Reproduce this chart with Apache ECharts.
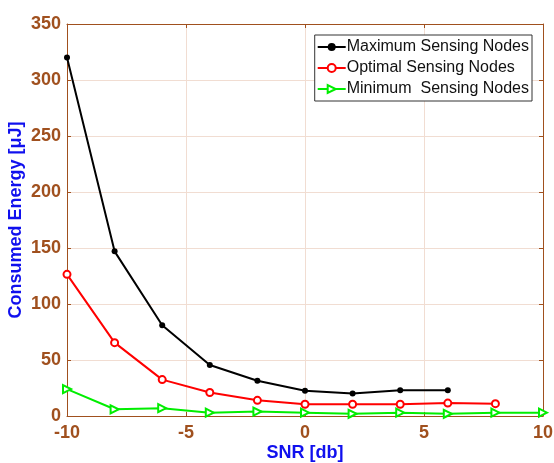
<!DOCTYPE html>
<html><head><meta charset="utf-8">
<script src="https://cdn.jsdelivr.net/npm/echarts@6/dist/echarts.min.js"></script>
<style>html,body{margin:0;padding:0;background:#fff}#c{width:554px;height:463px}</style>
</head><body><div id="c"></div>
<script>
const snrMax = [-10, -8, -6, -4, -2, 0, 2, 4, 6];
const maxNodes = [320, 147, 81, 45.5, 31.5, 22.5, 20, 23, 23];
const snrOpt = [-10, -8, -6, -4, -2, 0, 2, 4, 6, 8];
const optNodes = [126.5, 65.5, 32.5, 21, 14, 10.5, 10.5, 10.5, 11.5, 11];
const snrMin = [-10, -8, -6, -4, -2, 0, 2, 4, 6, 8, 10];
const minNodes = [24, 6, 7, 3, 4, 3, 2, 3, 2, 3, 3];
const seriesNames = ['Maximum Sensing Nodes', 'Optimal Sensing Nodes', 'Minimum  Sensing Nodes'];

const brown = '#a0501e';
const gridCol = '#f1ddd2';
const font = 'Liberation Sans, Arial, sans-serif';
const pair = (xs, ys) => xs.map((x, i) => [x, ys[i]]);

const chart = echarts.init(document.getElementById('c'));
chart.setOption({
  animation: false,
  backgroundColor: '#fff',
  grid: { left: 67, right: 11, top: 24, bottom: 47, containLabel: false, outerBoundsMode: 'none' },
  legend: {
    orient: 'vertical', right: 22, top: 35,
    backgroundColor: '#fff', borderColor: '#333', borderWidth: 1,
    padding: [4, 3, 4, 2], itemGap: 5, itemWidth: 28, itemHeight: 10,
    textStyle: { fontFamily: font, fontSize: 16, color: '#111', padding: [0, 0, 0, -4] },
    data: seriesNames
  },
  xAxis: [{
    type: 'value', min: -10, max: 10, interval: 5,
    name: 'SNR [db]', nameLocation: 'middle', nameGap: 28, nameMoveOverlap: false,
    nameTextStyle: { color: '#1010ee', fontWeight: 'bold', fontSize: 18, fontFamily: font },
    axisLine: { onZero: false, lineStyle: { color: brown, width: 1 } },
    axisTick: { inside: true, length: 4, lineStyle: { color: brown } },
    axisLabel: { color: brown, fontWeight: 'bold', fontSize: 18, fontFamily: font, margin: 8 },
    splitLine: { show: true, lineStyle: { color: gridCol, width: 1 } }
  }, {
    type: 'value', min: -10, max: 10, interval: 5, position: 'top',
    axisLine: { show: true, onZero: false, lineStyle: { color: brown, width: 1 } },
    axisTick: { inside: true, length: 4, lineStyle: { color: brown } },
    axisLabel: { show: false }, splitLine: { show: false }
  }],
  yAxis: [{
    type: 'value', min: 0, max: 350, interval: 50,
    name: 'Consumed Energy [μJ]', nameLocation: 'middle', nameGap: 42, nameMoveOverlap: false,
    nameTextStyle: { color: '#1010ee', fontWeight: 'bold', fontSize: 18, fontFamily: font },
    axisLine: { show: true, onZero: false, lineStyle: { color: brown, width: 1 } },
    axisTick: { show: true, inside: true, length: 4, lineStyle: { color: brown } },
    axisLabel: { color: brown, fontWeight: 'bold', fontSize: 18, fontFamily: font, margin: 6 },
    splitLine: { show: true, lineStyle: { color: gridCol, width: 1 } }
  }, {
    type: 'value', min: 0, max: 350, interval: 50, position: 'right',
    axisLine: { show: true, onZero: false, lineStyle: { color: brown, width: 1 } },
    axisTick: { show: true, inside: true, length: 4, lineStyle: { color: brown } },
    axisLabel: { show: false }, splitLine: { show: false }
  }],
  series: [{
    name: seriesNames[0], type: 'line', data: pair(snrMax, maxNodes),
    symbol: 'circle', symbolSize: 6, color: '#000',
    lineStyle: { color: '#000', width: 2 }, itemStyle: { color: '#000' }
  }, {
    name: seriesNames[1], type: 'line', data: pair(snrOpt, optNodes),
    symbol: 'emptyCircle', symbolSize: 7, color: '#ff0000',
    lineStyle: { color: '#ff0000', width: 2 }, itemStyle: { color: '#ff0000', borderWidth: 1.5 }
  }, {
    name: seriesNames[2], type: 'line', data: pair(snrMin, minNodes),
    symbol: 'emptyTriangle', symbolRotate: -90, symbolSize: 8, color: '#00ee00',
    lineStyle: { color: '#00ee00', width: 2 }, itemStyle: { color: '#00ee00', borderWidth: 1.5 }
  }]
});
</script></body></html>
